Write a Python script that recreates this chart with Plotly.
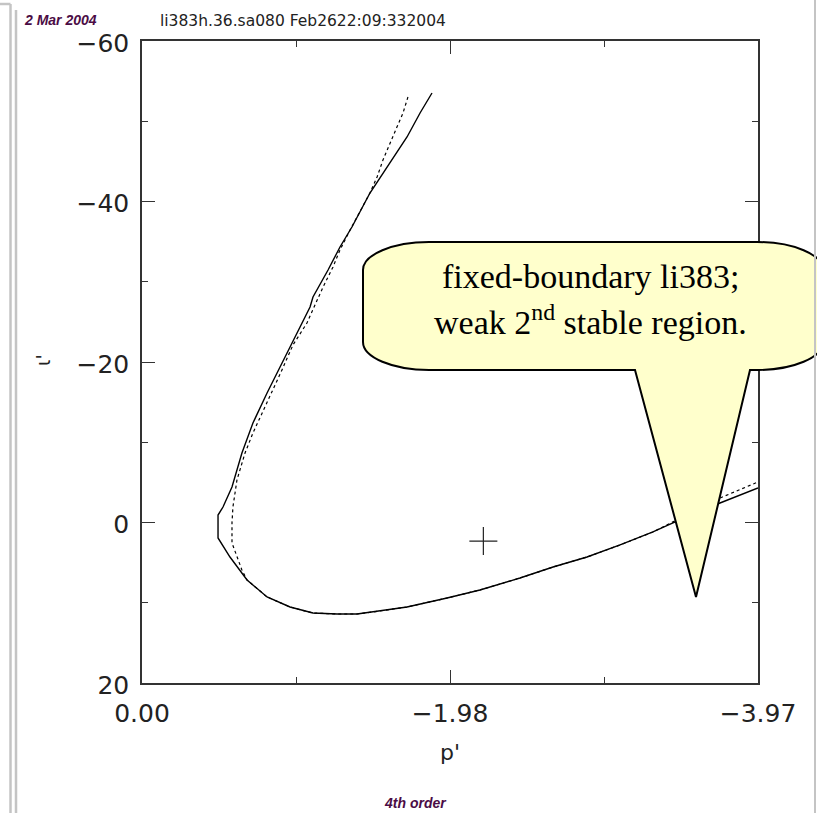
import plotly.graph_objects as go

# ---- data ----
solid_p = [-1.869, -1.792, -1.708, -1.598, -1.469, -1.353, -1.276, -1.199, -1.102, -1.083,
           -0.999, -0.902, -0.806, -0.715, -0.644, -0.580, -0.522, -0.490, -0.490, -0.567,
           -0.677, -0.806, -0.954, -1.102, -1.257, -1.386, -1.489, -1.708, -1.966, -2.178,
           -2.436, -2.649, -2.868, -3.081, -3.293, -3.422, -3.725, -3.970]
solid_i = [-53.52, -51.03, -48.04, -44.80, -41.06, -36.82, -34.33, -31.46, -28.10, -26.85,
           -23.61, -19.88, -16.14, -12.40, -8.66, -4.42, -1.93, -0.93, 1.93, 4.30,
           7.17, 9.28, 10.53, 11.28, 11.40, 11.40, 11.15, 10.53, 9.41, 8.41,
           6.92, 5.55, 4.30, 2.80, 1.18, 0.06, -2.43, -4.30]

dashed_p = [-1.714, -1.682, -1.643, -1.598, -1.553, -1.515, -1.469, -1.341, -1.276, -1.231,
            -1.167, -1.063, -0.973, -0.902, -0.806, -0.715, -0.664, -0.612, -0.586, -0.580,
            -0.580, -0.612, -0.644, -0.677, -0.806, -0.954, -1.102, -1.257, -1.386, -1.489,
            -1.708, -1.966, -2.178, -2.436, -2.649, -2.868, -3.081, -3.293, -3.422, -3.725, -3.970]
dashed_i = [-53.02, -51.03, -49.28, -47.29, -45.17, -43.05, -41.06, -36.45, -33.96, -31.84,
            -29.35, -24.86, -22.12, -19.00, -14.89, -11.15, -8.66, -5.30, -1.93, 0.06,
            2.55, 4.30, 5.92, 7.17, 9.28, 10.53, 11.28, 11.40, 11.40, 11.15,
            10.53, 9.41, 8.41, 6.92, 5.55, 4.30, 2.80, 1.18, -0.06, -3.05, -5.05]

marker_p = [-2.20]
marker_i = [2.31]

x_tickvals = [0.0, -1.985, -3.97]
x_ticktext = ["0.00", "\u22121.98", "\u22123.97"]
y_tickvals = [-60, -40, -20, 0, 20]
y_ticktext = ["\u221260", "\u221240", "\u221220", "0", "20"]

# ---- layout geometry (pixels) ----
W, H = 817, 813
ML, MR, MT, MB = 142, 59, 41, 130
PW, PH = W - ML - MR, H - MT - MB


def px(x):
    return (x - ML) / PW


def py(y):
    return (H - MB - y) / PH


fig = go.Figure()
fig.add_trace(go.Scatter(x=solid_p, y=solid_i, mode="lines",
                         line=dict(color="black", width=1.4), showlegend=False))
fig.add_trace(go.Scatter(x=dashed_p, y=dashed_i, mode="lines",
                         line=dict(color="black", width=1.2, dash="3px,3px"), showlegend=False))
fig.add_trace(go.Scatter(x=marker_p, y=marker_i, mode="markers",
                         marker=dict(symbol="cross-thin", size=20,
                                     line=dict(color="#222", width=1.2)),
                         showlegend=False))

tickfont = dict(family="DejaVu Sans", size=25, color="#222")
axcol = "#333"

fig.update_xaxes(range=[0, -3.97], tickmode="array", tickvals=x_tickvals, ticktext=x_ticktext,
                 ticks="inside", ticklen=13, tickwidth=1, tickcolor=axcol,
                 showline=True, linecolor=axcol, linewidth=1.5, mirror="ticks",
                 showgrid=False, zeroline=False, tickfont=tickfont, ticklabelstandoff=7,
                 minor=dict(tickmode="array", tickvals=[-0.9925, -2.9775], ticks="inside",
                            ticklen=6, tickwidth=1, tickcolor=axcol, showgrid=False))
fig.update_yaxes(range=[20, -60], tickmode="array", tickvals=y_tickvals, ticktext=y_ticktext,
                 ticks="inside", ticklen=13, tickwidth=1, tickcolor=axcol,
                 showline=True, linecolor=axcol, linewidth=1.5, mirror="ticks",
                 showgrid=False, zeroline=False, tickfont=tickfont, ticklabelstandoff=6,
                 ticklabelshift=-2,
                 minor=dict(tickmode="array", tickvals=[-50, -30, -10, 10], ticks="inside",
                            ticklen=6, tickwidth=1, tickcolor=axcol, showgrid=False))

# ---- callout bubble ----
L, R, T, B = 363, 823, 242, 370
rx, ry = 66, 28
k = 0.45
pts = [
    ("M", [(L, T + ry)]),
    ("C", [(L, T + ry * k), (L + rx * k, T), (L + rx, T)]),
    ("L", [(R - rx, T)]),
    ("C", [(R - rx * k, T), (R, T + ry * k), (R, T + ry)]),
    ("L", [(R, B - ry)]),
    ("C", [(R, B - ry * k), (R - rx * k, B), (R - rx, B)]),
    ("L", [(750, B)]),
    ("L", [(696, 597)]),
    ("L", [(635, B)]),
    ("L", [(L + rx, B)]),
    ("C", [(L + rx * k, B), (L, B - ry * k), (L, B - ry)]),
]
path = ""
for cmd, ps in pts:
    path += cmd + " " + " ".join(f"{px(a):.5f},{py(b):.5f}" for a, b in ps) + " "
path += "Z"

shapes = [
    dict(type="path", path=path, xref="paper", yref="paper",
         fillcolor="#ffffcc", line=dict(color="black", width=2), layer="above"),
    # window frame lines
    dict(type="line", xref="paper", yref="paper", x0=px(10.5), x1=px(10.5), y0=py(4), y1=py(813),
         line=dict(color="#c4c4c4", width=2.5)),
    dict(type="line", xref="paper", yref="paper", x0=px(16), x1=px(16), y0=py(10), y1=py(813),
         line=dict(color="#c4c4c4", width=2.5)),
    dict(type="line", xref="paper", yref="paper", x0=px(0), x1=px(10.5), y0=py(4), y1=py(4),
         line=dict(color="#c4c4c4", width=2.5)),
    dict(type="line", xref="paper", yref="paper", x0=px(815), x1=px(815), y0=py(0), y1=py(813),
         line=dict(color="#c4c4c4", width=2)),
]

purple = "#4b0c45"
callfont = dict(family="Liberation Serif", size=34, color="black")
annotations = [
    dict(text="fixed-boundary li383;",
         x=px(590), y=py(276), xref="paper", yref="paper", xanchor="center", yanchor="middle",
         showarrow=False, font=callfont),
    dict(text="weak 2<sup>nd</sup> stable region.",
         x=px(590), y=py(320), xref="paper", yref="paper", xanchor="center", yanchor="middle",
         showarrow=False, font=callfont),
    dict(text="li383h.36.sa080 Feb2622:09:332004", x=px(158), y=py(21), xref="paper", yref="paper",
         xanchor="left", yanchor="middle", showarrow=False,
         font=dict(family="DejaVu Sans", size=15.5, color="#222")),
    dict(text="<b><i>2 Mar 2004</i></b>", x=px(22), y=py(20), xref="paper", yref="paper",
         xanchor="left", yanchor="middle", showarrow=False,
         font=dict(family="Liberation Sans", size=14, color=purple)),
    dict(text="<b><i>4th order</i></b>", x=px(415), y=py(803), xref="paper", yref="paper",
         xanchor="center", yanchor="middle", showarrow=False,
         font=dict(family="Liberation Sans", size=14, color=purple)),
    dict(text="p'", x=px(450), y=py(753), xref="paper", yref="paper",
         xanchor="center", yanchor="middle", showarrow=False,
         font=dict(family="DejaVu Sans", size=22, color="#222")),
    dict(text="\u03b9'", x=px(43), y=py(360), xref="paper", yref="paper",
         xanchor="center", yanchor="middle", showarrow=False, textangle=-90,
         font=dict(family="DejaVu Sans", size=19, color="#222")),
]

fig.update_layout(width=W, height=H, autosize=False,
                  margin=dict(l=ML, r=MR, t=MT, b=MB, pad=0),
                  paper_bgcolor="white", plot_bgcolor="white",
                  shapes=shapes, annotations=annotations, showlegend=False)

fig.write_html("out.html", config={"displayModeBar": False})
